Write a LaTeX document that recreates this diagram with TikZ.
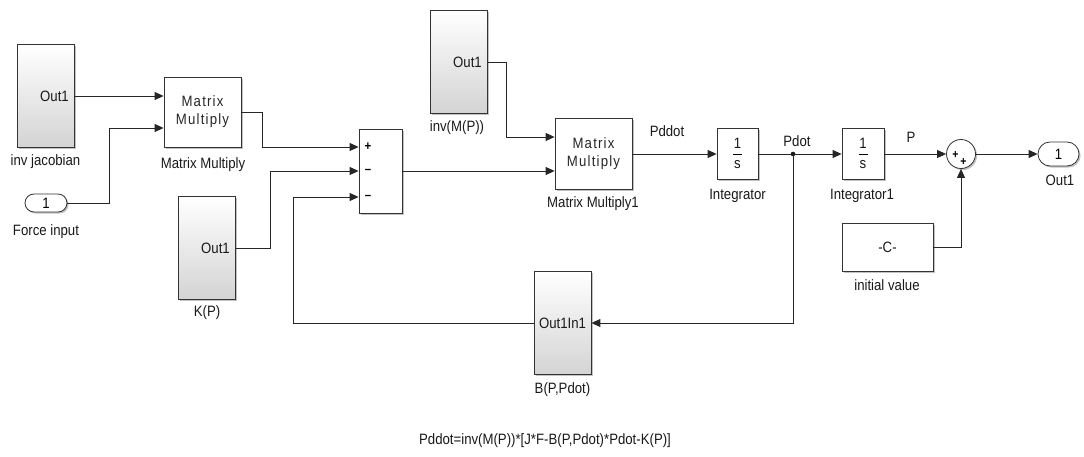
\documentclass[tikz,border=0pt]{standalone}
\usepackage{fontspec}
\setmainfont{Liberation Sans}[FakeStretch=0.88]
\newfontfamily\spacedfont{Liberation Sans}[FakeStretch=0.88,LetterSpace=8]
\usetikzlibrary{arrows.meta,shadows,shapes.misc}
\begin{document}
\begin{tikzpicture}[x=1pt,y=-1pt,
  wire/.style={line width=0.9pt, draw=black!85},
  arr/.style={wire, -{Triangle[length=9pt,width=8pt]}},
  shad/.style={drop shadow={shadow xshift=1.6pt, shadow yshift=-1.6pt, fill=black!40, opacity=0.6}},
  sub/.style={draw=black!80, line width=0.8pt, top color=white, bottom color=black!17, shad, minimum width=57pt, minimum height=103pt, inner sep=0pt},
  blk/.style={draw=black!80, line width=0.8pt, fill=white, shad, inner sep=0pt},
  port/.style={rounded rectangle, draw=black!80, line width=0.8pt, fill=white, shad, inner sep=0pt, font=\fontsize{15}{17}\selectfont},
  lab/.style={font=\fontsize{15}{17}\selectfont, inner sep=0pt, text=black!90},
  inlab/.style={font=\spacedfont\fontsize{15}{18}\selectfont, inner sep=0pt, text=black!85},
  sgn/.style={font=\fontsize{13}{14}\selectfont\bfseries, inner sep=0pt},
]
\useasboundingbox (0,0) rectangle (1084,457);

% left side
\node[sub] (invj) at (45.5,96) {};
\node[lab, anchor=east] (invjo) at (69,96) {Out1};
\node[lab] (invjl) at (45.5,162) {inv jacobian};

\node[port, minimum width=42pt, minimum height=18pt] (force) at (46,203) {1};
\node[lab] (forcel) at (46,232) {Force input};

\node[blk, minimum width=77pt, minimum height=70pt, align=center, inlab] (mm) at (202.5,112) {Matrix\\Multiply};
\node[lab] (mml) at (203,165) {Matrix Multiply};

\node[sub] (kp) at (207,248) {};
\node[lab, anchor=east] (kpo) at (230,248) {Out1};
\node[lab] (kpl) at (207,313) {K(P)};

% sum block
\node[blk, minimum width=43pt, minimum height=84pt] (sum) at (380.5,171) {};
\node[sgn] (s1) at (368,147) {+};
\node[sgn] (s2) at (368,171) {–};
\node[sgn] (s3) at (368,197) {–};

% middle
\node[sub] (invm) at (458.5,62) {};
\node[lab, anchor=east] (invmo) at (482,62) {Out1};
\node[lab] (invml) at (457,128) {inv(M(P))};

\node[blk, minimum width=77pt, minimum height=71pt, align=center, inlab] (mm1) at (593.5,154) {Matrix\\Multiply};
\node[lab] (mm1l) at (593,204) {Matrix Multiply1};

\node[sub] (bb) at (562.5,323) {};
\node[lab] (bbo) at (562.5,323) {Out1In1};
\node[lab] (bbl) at (562.5,390) {B(P,Pdot)};

% integrators
\node[blk, minimum width=41pt, minimum height=51pt] (integ) at (737.5,154) {};
\node[lab] (i1n) at (737.5,143) {1};
\node[lab] (i1d) at (737.5,165) {s};
\draw[line width=0.8pt] (733,154.5) -- (742,154.5);
\node[lab] (integl) at (737.5,196) {Integrator};

\node[blk, minimum width=42pt, minimum height=51pt] (integ1) at (863,154) {};
\node[lab] (i2n) at (863,143) {1};
\node[lab] (i2d) at (863,165) {s};
\draw[line width=0.8pt] (858.5,154.5) -- (867.5,154.5);
\node[lab] (integ1l) at (862,196) {Integrator1};

% sum circle
\node[circle, draw=black!80, line width=0.8pt, fill=white, shad, minimum size=29pt, inner sep=0pt] (sumc) at (961,154) {};
\node[sgn, font=\fontsize{12}{12}\selectfont\bfseries] (c1) at (955.5,154.5) {+};
\node[sgn, font=\fontsize{12}{12}\selectfont\bfseries] (c2) at (963.5,162) {+};

\node[port, minimum width=41pt, minimum height=24pt] (out) at (1058.5,154) {1};
\node[lab] (outl) at (1060,180) {Out1};

\node[blk, minimum width=91pt, minimum height=48pt, lab] (const) at (887.5,247) {-C-};
\node[lab] (constl) at (887,285) {initial value};

% signal labels
\node[lab] (pddot) at (667,131) {Pddot};
\node[lab] (pdot) at (797,141) {Pdot};
\node[lab] (plab) at (911,137) {P};

% wires
\draw[arr] (invj.east) -- ([yshift=16pt]mm.west);
\draw[arr] (force.east) -| (109,128) -- ([yshift=-16pt]mm.west);
\draw[arr] (mm.east) -| (262,147) -- ([yshift=24pt]sum.west);
\draw[arr] (kp.east) -| (270,171) -- (sum.west);
\draw[arr] (bb.west) -| (293,197) -- ([yshift=-26pt]sum.west);
\draw[arr] (sum.east) -- ([yshift=-17pt]mm1.west);
\draw[arr] (invm.east) -| (506,137) -- ([yshift=17pt]mm1.west);
\draw[arr] (mm1.east) -- (integ.west);
\coordinate (br) at (793,154);
\draw[arr] (integ.east) -- (integ1.west);
\fill[black!90] (br) circle (2.3pt);
\draw[arr] (br) |- (bb.east);
\draw[arr] (integ1.east) -- (sumc.west);
\draw[arr] (sumc.east) -- (out.west);
\draw[arr] (const.east) -| (sumc.south);

% formula
\node[lab] (formula) at (545,441) {Pddot=inv(M(P))*[J*F-B(P,Pdot)*Pdot-K(P)]};
\end{tikzpicture}
\end{document}
